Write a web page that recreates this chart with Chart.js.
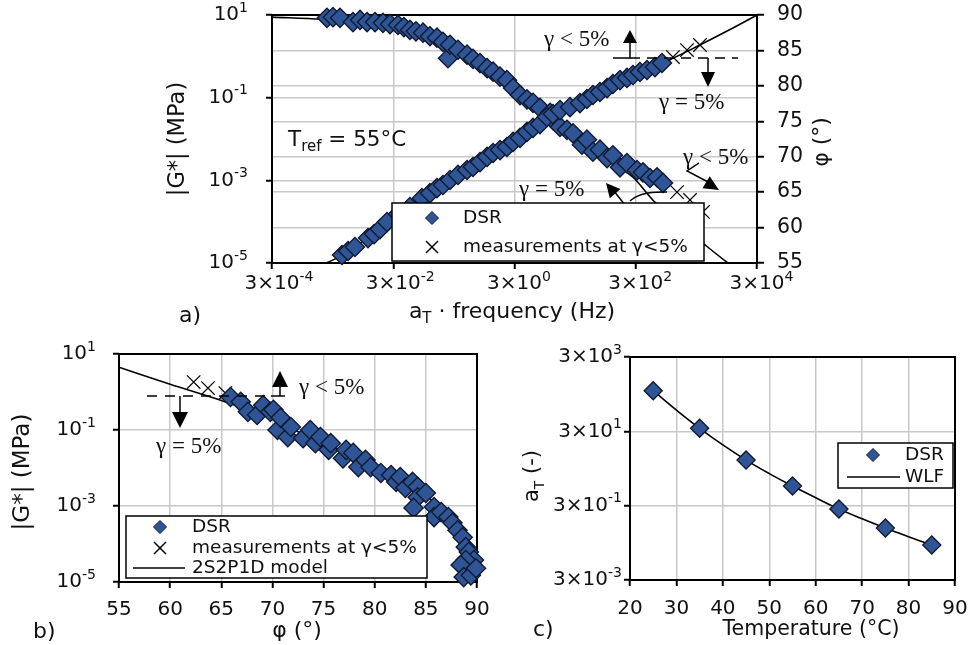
<!DOCTYPE html>
<html><head><meta charset="utf-8">
<script src="https://cdn.jsdelivr.net/npm/chart.js@4.4.1/dist/chart.umd.min.js"></script>
<style>
html,body{margin:0;padding:0;background:#fff}
body{width:970px;height:645px;position:relative;overflow:hidden}
canvas{position:absolute}
</style></head><body>
<canvas id="ca" width="720" height="330" style="left:150px;top:0px;width:720px;height:330px"></canvas>
<canvas id="cb" width="500" height="310" style="left:0px;top:335px;width:500px;height:310px"></canvas>
<canvas id="cc" width="465" height="305" style="left:505px;top:340px;width:465px;height:305px"></canvas>
<script>
// ================= DATA =================
// a) master curves at Tref = 55 °C  (x: aT·frequency, Hz)
const freqDsrG = [4.29e-3,5.4e-3,7.0e-3,1.15e-2,1.45e-2,1.81e-2,2.37e-2,3.6e-2,5.66e-2,8.9e-2,0.121,0.158,0.198,0.259,0.351,0.494,0.62,0.81,1.06,1.33,1.73,2.25,2.84,3.70,4.82,6.06,7.9,10.3,12.9,16.9,24.7,36,47,59,77,101,126,165,215,270,352,460,623,813];
const gDsr = [1.56e-5,1.95e-5,2.44e-5,4.0e-5,5.0e-5,6.6e-5,9.8e-5,1.53e-4,2.26e-4,3.7e-4,4.9e-4,6.5e-4,7.7e-4,1.02e-3,1.35e-3,1.78e-3,2.1e-3,2.77e-3,3.7e-3,4.58e-3,5.4e-3,6.4e-3,8.5e-3,1.06e-2,1.48e-2,1.85e-2,2.3e-2,3.4e-2,4.0e-2,5.0e-2,5.9e-2,7.4e-2,9.3e-2,0.116,0.137,0.171,0.214,0.267,0.30,0.353,0.418,0.467,0.55,0.69];
const freqDsrPhi = [2.42e-3,3.04e-3,3.97e-3,6.5e-3,8.5e-3,1.11e-2,1.5e-2,2.03e-2,2.65e-2,3.59e-2,4.5e-2,5.66e-2,7.1e-2,9.3e-2,0.121,0.158,0.198,0.24,0.259,0.351,0.494,0.62,0.81,1.06,1.33,1.73,2.25,2.84,3.70,4.82,6.06,7.9,11.6,12.9,16.9,22.0,27.7,38.9,47,59,77,101,126,165,215,315,395,515,673,845];
const phiDsr = [89.6,89.7,89.6,89.0,89.3,89.0,89.0,88.9,88.7,88.6,88.3,87.9,87.7,87.5,87.0,86.8,86.2,83.9,85.8,85.1,84.4,83.8,83.2,82.5,82.0,81.3,80.8,79.7,78.7,78.1,77.6,76.9,76.2,75.2,74.2,73.8,73.3,71.7,72.4,70.7,71.0,69.8,70.2,68.5,69.1,68.1,67.8,67.0,67.1,66.3];
const freqCrossG = [1233,2100,3440];
const gCross = [0.96,1.42,1.88];
const freqCrossPhi = [1439,2355,3855];
const phiCross = [65.0,63.9,62.2];
const freqModelG = [1.8e-3,4e-3,1e-2,3e-2,0.1,0.3,1,3,10,30,100,300,1000,3000,1e4,3e4];
const gModel = [8.5e-6,1.45e-5,3.5e-5,1.2e-4,4.2e-4,1.18e-3,3.4e-3,8.9e-3,3.3e-2,7.2e-2,0.17,0.37,0.78,1.7,4.2,10];
const freqModelPhi = [3e-4,2e-3,1e-2,0.1,1,10,100,270,620,4400,1.3e4];
const phiModel = [89.7,89.4,89.0,87.4,82.7,76.5,69.7,67.1,63.6,57.4,54.2];

// b) black diagram
const phiB = [65.9,66.9,67.6,68.5,69.1,69.8,70.1,70.5,70.8,71.5,71.8,73.0,73.7,74.2,74.7,75.5,75.7,76.9,77.2,77.9,78.4,79.1,79.6,80.6,81.6,82.1,82.5,83.0,83.7,84.2,84.2,83.8,85.0,85.8,85.8,86.5,87.2,87.6,88.1,88.6,88.9,89.2,89.7,88.9,88.4,88.7,89.4,89.9];
const gB = [0.74,0.55,0.30,0.25,0.45,0.30,0.34,0.10,0.21,0.065,0.12,0.061,0.10,0.045,0.065,0.030,0.045,0.018,0.030,0.025,0.0106,0.0163,0.0106,0.0074,0.0065,0.0043,0.0058,0.0030,0.0043,0.0032,0.0017,8.9e-4,0.0022,9.4e-4,5.1e-4,6.9e-4,5.1e-4,3.6e-4,2.3e-4,1.5e-4,8.3e-5,6.2e-5,3.8e-5,3.8e-5,2.8e-5,1.35e-5,1.5e-5,2.3e-5];
const phiCrossB = [62.3,63.7,65.4];
const gCrossB = [1.83,1.27,0.94];
const phiModelB = [55,60,65,67.5,70,72.5,75,77.5,80,82.5,85,87.5,89,89.8];
const gModelB = [4.5,1.6,0.6,0.35,0.2,0.09,0.045,0.022,0.009,0.0047,0.0019,4e-4,7.5e-5,1.2e-5];

// c) shift factors
const tempsC = [25,35,45,55,65,75,85];
const aTC = [372,36.1,5.06,1.01,0.243,0.0748,0.0261];
const tempsWLF = [25,30,35,40,45,50,55,60,65,70,75,80,85];
const aTWLF = [372,112,36.1,12.9,5.06,2.19,1.01,0.49,0.243,0.133,0.0748,0.0437,0.0261];

// tick labels
const xTickValsA = [3e-4,3e-2,3,3e2,3e4];
const xTickBaseA = ['3×10','3×10','3×10','3×10','3×10'];
const xTickExpA = ['-4','-2','0','2','4'];
const yTickValsA = [10,0.1,1e-3,1e-5];
const yTickBaseA = ['10','10','10','10'];
const yTickExpA = ['1','-1','-3','-5'];
const y2TickValsA = [55,60,65,70,75,80,85,90];
const xTickValsB = [55,60,65,70,75,80,85,90];
const yTickValsB = [10,0.1,1e-3,1e-5];
const yTickExpB = ['1','-1','-3','-5'];
const xTickValsC = [20,30,40,50,60,70,80,90];
const yTickValsC = [3e3,30,0.3,3e-3];
const yTickExpC = ['3','1','-1','-3'];

// ================= STYLE / HELPERS =================
const BLUE = '#2f5597', EDGE = '#111a30', TXT = '#111', GRID = '#c8c8c8';
const FONT = '"DejaVu Sans", Verdana, sans-serif';
const SERIF = '"Liberation Serif", "Times New Roman", serif';
Chart.defaults.font.family = FONT;

const xy = (xs, ys) => xs.map((x, i) => ({x, y: ys[i]}));

function rich(ctx, parts, x, y, align, size = 20, small = 14, fam = FONT) {
  ctx.save();
  ctx.fillStyle = TXT; ctx.textBaseline = 'middle'; ctx.textAlign = 'left';
  const ws = parts.map(([t, m]) => { ctx.font = (m ? small : size) + 'px ' + fam; return ctx.measureText(t).width; });
  const tot = ws.reduce((s, w) => s + w, 0);
  let cx = align === 'center' ? x - tot / 2 : align === 'right' ? x - tot : x;
  const up = Math.round(size * 0.36);
  parts.forEach(([t, m], i) => {
    ctx.font = (m ? small : size) + 'px ' + fam;
    ctx.fillText(t, cx, y + (m === 1 ? -up : m === -1 ? up * 0.9 : 0));
    cx += ws[i];
  });
  ctx.restore();
}
function supCenter(ctx, base, exp, x, y) {
  ctx.save(); ctx.font = '20px ' + FONT;
  const wb = ctx.measureText(base).width; ctx.restore();
  rich(ctx, [[base, 0], [exp, 1]], x - wb / 2, y, 'left', 20, 14);
}
function rot(ctx, parts, x, y, size, small) {
  ctx.save(); ctx.translate(x, y); ctx.rotate(-Math.PI / 2);
  rich(ctx, parts, 0, 0, 'center', size, small); ctx.restore();
}
function frame(c) {
  const {ctx, chartArea: a} = c;
  ctx.save(); ctx.strokeStyle = '#000'; ctx.lineWidth = 2;
  ctx.strokeRect(a.left, a.top, a.right - a.left, a.bottom - a.top); ctx.restore();
}
function seg(ctx, pts, dash) {
  ctx.save(); ctx.strokeStyle = '#000'; ctx.lineWidth = 1.5; ctx.setLineDash(dash || []);
  ctx.beginPath(); ctx.moveTo(pts[0][0], pts[0][1]);
  for (let i = 1; i < pts.length; i++) ctx.lineTo(pts[i][0], pts[i][1]);
  ctx.stroke(); ctx.restore();
}
function head(ctx, tx, ty, fx, fy, len = 13, half = 7) {
  const a = Math.atan2(ty - fy, tx - fx);
  const bx = tx - len * Math.cos(a), by = ty - len * Math.sin(a);
  ctx.save(); ctx.fillStyle = '#000'; ctx.beginPath(); ctx.moveTo(tx, ty);
  ctx.lineTo(bx + half * Math.sin(a), by - half * Math.cos(a));
  ctx.lineTo(bx - half * Math.sin(a), by + half * Math.cos(a));
  ctx.closePath(); ctx.fill(); ctx.restore();
}
function gtext(ctx, s, x, y) {
  ctx.save(); ctx.font = '23px ' + SERIF; ctx.fillStyle = TXT; ctx.textBaseline = 'middle'; ctx.textAlign = 'left';
  ctx.fillText(s, x, y); ctx.restore();
}
function lbox(ctx, x0, y0, x1, y1) {
  ctx.save(); ctx.fillStyle = '#fff'; ctx.fillRect(x0, y0, x1 - x0, y1 - y0);
  ctx.strokeStyle = '#000'; ctx.lineWidth = 1.5; ctx.strokeRect(x0, y0, x1 - x0, y1 - y0); ctx.restore();
}
function ldiamond(ctx, x, y, r = 6.5) {
  ctx.save(); ctx.fillStyle = BLUE; ctx.strokeStyle = EDGE; ctx.lineWidth = 1;
  ctx.beginPath(); ctx.moveTo(x, y - r); ctx.lineTo(x + r, y); ctx.lineTo(x, y + r); ctx.lineTo(x - r, y); ctx.closePath();
  ctx.fill(); ctx.stroke(); ctx.restore();
}
function lcross(ctx, x, y, r = 6) {
  seg(ctx, [[x - r, y - r], [x + r, y + r]]); seg(ctx, [[x - r, y + r], [x + r, y - r]]);
}
function ltext(ctx, s, x, y) {
  ctx.save(); ctx.font = '18.5px ' + FONT; ctx.fillStyle = TXT; ctx.textBaseline = 'middle'; ctx.textAlign = 'left';
  ctx.fillText(s, x, y); ctx.restore();
}
const gridOpt = () => ({color: GRID, lineWidth: 1.5, tickLength: 6, tickColor: '#000', tickWidth: 2});
const setTicks = vals => s => { s.ticks = vals.map(v => ({value: v})); };
const diamondDs = (data, extra) => Object.assign({data, pointStyle: 'rectRot', pointRadius: 9.6, backgroundColor: BLUE,
  borderColor: EDGE, borderWidth: 1.4, clip: false, showLine: false}, extra || {});
const crossDs = (data, extra) => Object.assign({data, pointStyle: 'crossRot', pointRadius: 9.5, borderColor: '#000',
  backgroundColor: '#000', borderWidth: 1.2, clip: false, showLine: false}, extra || {});
const lineDs = (data, extra) => Object.assign({data, showLine: true, pointRadius: 0, borderColor: '#000',
  borderWidth: 1.6, cubicInterpolationMode: 'monotone', fill: false}, extra || {});
const baseOpts = {responsive: false, animation: false, devicePixelRatio: 1, events: [],
  plugins: {legend: {display: false}, tooltip: {enabled: false}}};

// ================= CHART a =================
new Chart(document.getElementById('ca'), {
  type: 'scatter',
  data: {datasets: [
    diamondDs(xy(freqDsrG, gDsr), {yAxisID: 'y'}),
    diamondDs(xy(freqDsrPhi, phiDsr), {yAxisID: 'y2'}),
    crossDs(xy(freqCrossG, gCross), {yAxisID: 'y'}),
    crossDs(xy(freqCrossPhi, phiCross), {yAxisID: 'y2'}),
    lineDs(xy(freqModelG, gModel), {yAxisID: 'y'}),
    lineDs(xy(freqModelPhi, phiModel), {yAxisID: 'y2'})
  ]},
  options: Object.assign({}, baseOpts, {
    layout: {padding: {top: 15, left: 0, right: 0, bottom: 0}},
    scales: {
      x: {type: 'logarithmic', position: 'bottom', min: 3e-4, max: 3e4, bounds: 'data',
          afterBuildTicks: setTicks(xTickValsA), ticks: {display: false}, grid: gridOpt(),
          border: {display: false}, afterFit: s => { s.height = 67; }},
      y: {type: 'logarithmic', position: 'left', min: 1e-5, max: 10, bounds: 'data',
          afterBuildTicks: setTicks(yTickValsA), ticks: {display: false}, grid: gridOpt(),
          border: {display: false}, afterFit: s => { s.width = 122; }},
      y2: {type: 'linear', position: 'right', min: 55, max: 90, bounds: 'data',
          afterBuildTicks: setTicks(y2TickValsA), ticks: {display: false}, grid: Object.assign(gridOpt(), {tickLength: 7}),
          border: {display: false}, afterFit: s => { s.width = 113; }}
    }
  }),
  plugins: [{
    id: 'decorA',
    beforeDatasetsDraw(c) { frame(c); },
    afterDatasetsDraw(c) {
      const ctx = c.ctx, a = c.chartArea, sx = c.scales.x, sy = c.scales.y, s2 = c.scales.y2;
      xTickValsA.forEach((v, i) => supCenter(ctx, xTickBaseA[i], xTickExpA[i], sx.getPixelForValue(v), a.bottom + 21));
      yTickValsA.forEach((v, i) => rich(ctx, [[yTickBaseA[i], 0], [yTickExpA[i], 1]], a.left - 24, sy.getPixelForValue(v), 'right'));
      y2TickValsA.forEach(v => rich(ctx, [[String(v), 0]], a.right + 20, s2.getPixelForValue(v), 'left', 20.5));
      ctx.save(); ctx.translate(-150, 0);
      // annotations
      seg(ctx, [[613, 58], [630, 58], [630, 43]]); head(ctx, 630, 30, 630, 58, 13, 7);
      seg(ctx, [[630, 58], [738, 58]], [10, 7]);
      seg(ctx, [[708, 58], [708, 72]]); head(ctx, 708, 87, 708, 58, 15, 7);
      gtext(ctx, 'γ < 5%', 544, 40);
      gtext(ctx, 'γ = 5%', 659, 103);
      gtext(ctx, 'γ < 5%', 683, 158);
      seg(ctx, [[699, 163], [687, 171], [710, 183]]); head(ctx, 719, 190, 687, 171, 15, 7);
      seg(ctx, [[625, 205], [614, 191]]); head(ctx, 606, 183, 625, 205, 14, 7);
      ctx.save(); ctx.strokeStyle = '#000'; ctx.lineWidth = 1.5; ctx.beginPath();
      ctx.moveTo(630, 201); ctx.quadraticCurveTo(640, 191, 667, 192); ctx.stroke(); ctx.restore();
      gtext(ctx, 'γ = 5%', 519, 190);
      // T ref
      rich(ctx, [['T', 0], ['ref', -1], [' = 55°C', 0]], 288, 140, 'left', 21.5, 15);
      // legend
      lbox(ctx, 392, 203, 704, 261);
      ldiamond(ctx, 432, 218); ltext(ctx, 'DSR', 463, 218);
      lcross(ctx, 432, 247, 6); ltext(ctx, 'measurements at γ<5%', 463, 247);
      // titles
      rot(ctx, [['|G*| (MPa)', 0]], 178, 139, 22.5, 15);
      rot(ctx, [['φ (°)', 0]], 822, 142, 22, 15);
      rich(ctx, [['a', 0], ['T', -1], [' · frequency (Hz)', 0]], 512, 312, 'center', 22, 15);
      rich(ctx, [['a)', 0]], 179, 316, 'left', 22);
      ctx.restore();
    }
  }]
});

// ================= CHART b =================
new Chart(document.getElementById('cb'), {
  type: 'scatter',
  data: {datasets: [
    diamondDs(xy(phiB, gB)),
    crossDs(xy(phiCrossB, gCrossB)),
    lineDs(xy(phiModelB, gModelB))
  ]},
  options: Object.assign({}, baseOpts, {
    layout: {padding: {top: 19, left: 0, right: 23, bottom: 0}},
    scales: {
      x: {type: 'linear', position: 'bottom', min: 55, max: 90, bounds: 'data',
          afterBuildTicks: setTicks(xTickValsB), ticks: {display: false}, grid: gridOpt(),
          border: {display: false}, afterFit: s => { s.height = 63; }},
      y: {type: 'logarithmic', position: 'left', min: 1e-5, max: 10, bounds: 'data',
          afterBuildTicks: setTicks(yTickValsB), ticks: {display: false}, grid: gridOpt(),
          border: {display: false}, afterFit: s => { s.width = 119; }}
    }
  }),
  plugins: [{
    id: 'decorB',
    beforeDatasetsDraw(c) { frame(c); },
    afterDatasetsDraw(c) {
      const ctx = c.ctx, a = c.chartArea, sx = c.scales.x, sy = c.scales.y;
      xTickValsB.forEach(v => rich(ctx, [[String(v), 0]], sx.getPixelForValue(v), a.bottom + 28, 'center', 20));
      yTickValsB.forEach((v, i) => rich(ctx, [['10', 0], [yTickExpB[i], 1]], a.left - 23, sy.getPixelForValue(v), 'right'));
      ctx.save(); ctx.translate(0, -335);
      seg(ctx, [[147, 396], [272, 396]], [10, 8]);
      seg(ctx, [[180, 396], [180, 413]]); head(ctx, 180, 428, 180, 396, 16, 8);
      seg(ctx, [[271, 396], [285, 396]]);
      seg(ctx, [[280, 396], [280, 387]]); head(ctx, 280, 371, 280, 396, 16, 8);
      gtext(ctx, 'γ < 5%', 299, 388);
      gtext(ctx, 'γ = 5%', 156, 447);
      lbox(ctx, 126, 516, 427, 578);
      ldiamond(ctx, 160, 527); ltext(ctx, 'DSR', 192, 527);
      lcross(ctx, 160, 548, 6); ltext(ctx, 'measurements at γ<5%', 192, 548);
      seg(ctx, [[133, 568], [185, 568]]); ltext(ctx, '2S2P1D model', 192, 568);
      rot(ctx, [['|G*| (MPa)', 0]], 23, 472, 23, 15);
      rich(ctx, [['φ (°)', 0]], 297, 631, 'center', 22);
      rich(ctx, [['b)', 0]], 33, 632, 'left', 22);
      ctx.restore();
    }
  }]
});

// ================= CHART c =================
new Chart(document.getElementById('cc'), {
  type: 'scatter',
  data: {datasets: [
    diamondDs(xy(tempsC, aTC), {pointRadius: 9}),
    lineDs(xy(tempsWLF, aTWLF), {cubicInterpolationMode: 'default', tension: 0.4})
  ]},
  options: Object.assign({}, baseOpts, {
    layout: {padding: {top: 17, left: 0, right: 15, bottom: 0}},
    scales: {
      x: {type: 'linear', position: 'bottom', min: 20, max: 90, bounds: 'data',
          afterBuildTicks: setTicks(xTickValsC), ticks: {display: false}, grid: gridOpt(),
          border: {display: false}, afterFit: s => { s.height = 65; }},
      y: {type: 'logarithmic', position: 'left', min: 3e-3, max: 3e3, bounds: 'data',
          afterBuildTicks: setTicks(yTickValsC), ticks: {display: false}, grid: gridOpt(),
          border: {display: false}, afterFit: s => { s.width = 125; }}
    }
  }),
  plugins: [{
    id: 'decorC',
    beforeDatasetsDraw(c) { frame(c); },
    afterDatasetsDraw(c) {
      const ctx = c.ctx, a = c.chartArea, sx = c.scales.x, sy = c.scales.y;
      xTickValsC.forEach(v => rich(ctx, [[String(v), 0]], sx.getPixelForValue(v), a.bottom + 29, 'center', 20));
      yTickValsC.forEach((v, i) => rich(ctx, [['3×10', 0], [yTickExpC[i], 1]], a.left - 8, sy.getPixelForValue(v), 'right'));
      ctx.save(); ctx.translate(-505, -340);
      lbox(ctx, 838, 443, 953, 488);
      ldiamond(ctx, 873, 455); ltext(ctx, 'DSR', 905, 455);
      seg(ctx, [[847, 477], [900, 477]]); ltext(ctx, 'WLF', 905, 477);
      rot(ctx, [['a', 0], ['T', -1], [' (-)', 0]], 533, 476, 21, 14);
      rich(ctx, [['Temperature (°C)', 0]], 811, 630, 'center', 20.5);
      rich(ctx, [['c)', 0]], 533, 630, 'left', 22);
      ctx.restore();
    }
  }]
});
</script>
</body></html>
